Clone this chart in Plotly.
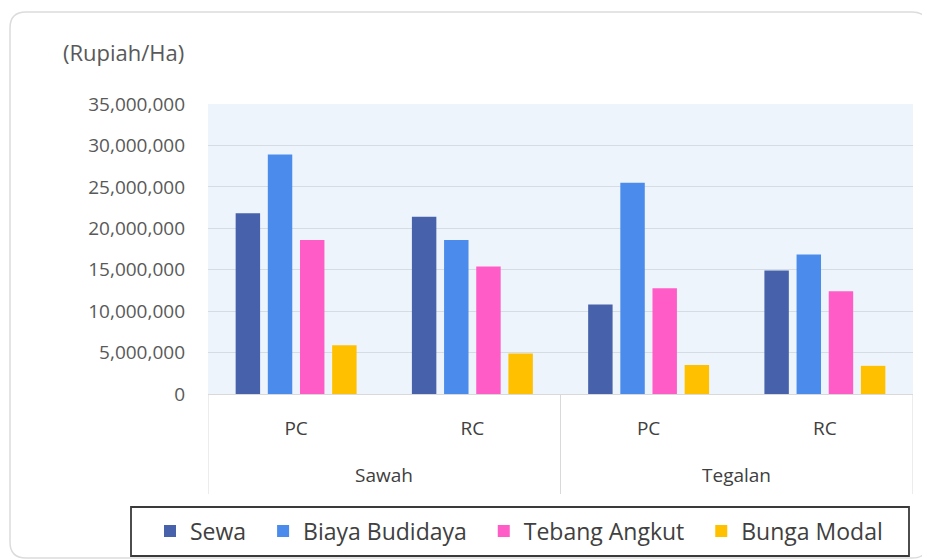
import plotly.graph_objects as go

groups = ["Sawah", "Tegalan"]
subcats = ["PC", "RC", "PC", "RC"]
series_names = ["Sewa", "Biaya Budidaya", "Tebang Angkut", "Bunga Modal"]
sewa = [21800000, 21400000, 10800000, 14900000]
biaya_budidaya = [28900000, 18600000, 25500000, 16850000]
tebang_angkut = [18600000, 15400000, 12750000, 12400000]
bunga_modal = [5870000, 4900000, 3500000, 3400000]
y_ticks = [0, 5000000, 10000000, 15000000, 20000000, 25000000, 30000000, 35000000]
colors = ["#4762AA", "#4A8BEB", "#FF5CC8", "#FFC000"]

# page body has an 8px margin; the figure is sized so it fills the 930x560 window
OFF = 8
W, H = 930 - OFF, 560 - OFF
L, R, T = 208 - OFF, 17, 104 - OFF
BOTTOM = 394 - OFF
B = H - BOTTOM
PW, PH = W - L - R, H - T - B


def X(o):
    return (o - OFF - L) / PW


def Y(o):
    return (BOTTOM - (o - OFF)) / PH


font = "Open Sans, Noto Sans, sans-serif"
xpos = list(range(len(subcats)))
PAD = "\u00a0\u00a0"

fig = go.Figure()
for name, vals, c in zip(series_names, [sewa, biaya_budidaya, tebang_angkut, bunga_modal], colors):
    fig.add_trace(go.Bar(name=name + PAD, x=xpos, y=vals,
                         marker=dict(color=c, line=dict(width=0))))

# rounded card
x0, y0, x1, y1, r = X(10), Y(12), X(928), Y(558), 16
rx, ry = r / PW, r / PH
card = (f"M {x0+rx},{y0} L {x1-rx},{y0} Q {x1},{y0} {x1},{y0-ry} "
        f"L {x1},{y1+ry} Q {x1},{y1} {x1-rx},{y1} L {x0+rx},{y1} "
        f"Q {x0},{y1} {x0},{y1+ry} L {x0},{y0-ry} Q {x0},{y0} {x0+rx},{y0} Z")

shapes = [
    dict(type="path", xref="paper", yref="paper", path=card,
         line=dict(color="#DCDCDC", width=1.5), fillcolor="rgba(0,0,0,0)", layer="below"),
    dict(type="rect", xref="paper", yref="paper", x0=X(131), x1=X(909), y0=Y(507), y1=Y(556),
         line=dict(color="#3A3A3A", width=1.8), fillcolor="rgba(0,0,0,0)"),
]
# group dividers of the two-level category axis
n_sub = len(subcats) // len(groups)
for k in range(len(groups) + 1):
    xv = k * n_sub - 0.5
    shapes.append(dict(type="line", xref="x", yref="paper", x0=xv, x1=xv, y0=0, y1=Y(494),
                       line=dict(color="#D9D9D9", width=1)))

annotations = [
    dict(text="(Rupiah/Ha)", xref="paper", yref="paper", x=X(61), y=Y(52),
         xanchor="left", yanchor="middle", showarrow=False,
         font=dict(size=22, color="#595959", family=font)),
]
for k, g in enumerate(groups):
    annotations.append(dict(text=g, xref="x", yref="paper", x=k * n_sub + (n_sub - 1) / 2,
                            y=Y(475), xanchor="center", yanchor="middle", showarrow=False,
                            font=dict(size=19, color="#404040", family=font)))

fig.update_layout(
    width=W, height=H,
    margin=dict(l=L, r=R, t=T, b=B, pad=0, autoexpand=False),
    paper_bgcolor="white",
    plot_bgcolor="#EEF4FC",
    barmode="group",
    bargap=0.27,
    bargroupgap=0.24,
    font=dict(family=font, color="#595959"),
    showlegend=True,
    legend=dict(orientation="h", x=X(150), xanchor="left", y=Y(531), yanchor="middle",
                font=dict(size=23, color="#404040"), bgcolor="rgba(0,0,0,0)",
                borderwidth=0, traceorder="normal"),
    shapes=shapes,
    annotations=annotations,
)

fig.update_yaxes(range=[0, 35000000], tickvals=y_ticks, tickformat=",d",
                 showgrid=True, gridcolor="#D6DCE4", gridwidth=1, zeroline=False,
                 showline=False, ticks="", ticklabelstandoff=22,
                 tickfont=dict(size=19, color="#595959"))
fig.update_xaxes(range=[-0.5, len(subcats) - 0.5], tickvals=xpos, ticktext=subcats,
                 showgrid=False, zeroline=False, showline=True, linecolor="#D9D9D9",
                 linewidth=1, ticks="", ticklabelstandoff=17,
                 tickfont=dict(size=19, color="#404040"))

fig.write_html("out.html")
